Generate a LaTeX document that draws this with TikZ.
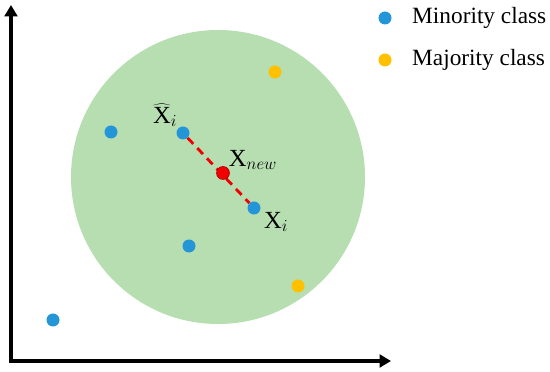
\documentclass[tikz,border=0pt]{standalone}
\usepackage{fontspec}
\setmainfont{Liberation Serif}
\usetikzlibrary{arrows.meta, positioning}
\definecolor{Dot_Blue}{HTML}{2496D8}
\definecolor{Dot_Orange}{HTML}{FFC000}
\definecolor{Dot_Red}{HTML}{F00000}
\definecolor{Area_Green}{HTML}{B6DEB1}

\begin{document}
\begin{tikzpicture}[
    x=0.03cm, y=-0.03cm,
    dot/.style={circle, minimum size=0.39cm, inner sep=0pt},
    minority/.style={dot, fill=Dot_Blue},
    majority/.style={dot, fill=Dot_Orange},
    axis/.style={line width=3.4pt, -{Triangle[length=0.34cm, width=0.38cm]}},
    lbl/.style={font=\fontsize{21}{24}\selectfont, inner sep=0pt},
    legend/.style={font=\fontsize{19.9}{24}\selectfont, anchor=west, inner sep=0pt}
]
\useasboundingbox (0,0) rectangle (550,372);
\fill[Area_Green] (218,177) circle (0.03cm*147);

\coordinate (origin) at (11,361);
\coordinate (ytop) at (11,5);
\coordinate (xend) at (391,361);
\draw[axis] ([yshift=-1.7pt]origin) -- (ytop);
\draw[axis] ([xshift=-1.7pt]origin) -- (xend);

\node[minority] (a) at (111,132) {};
\node[minority] (xhat) at (183,133) {};
\node[minority] (xi) at (254,208) {};
\node[minority] (b) at (189,246) {};
\node[minority] (c) at (53,320) {};
\node[majority] (d) at (275,72) {};
\node[majority] (e) at (298,286) {};

\draw[Dot_Red, line width=2.4pt, dash pattern=on 7pt off 5pt] (xhat) -- (xi);
\node[dot, fill=Dot_Red, draw=Dot_Red!70!black, line width=0.5pt] (xnew) at (223,173) {};

\node[lbl] (xhatlbl) at (165,115) {$\widehat{\mathrm{X}}_{i}$};
\node[lbl] (xnewlbl) at (253,160) {$\mathrm{X}_{new}$};
\node[lbl] (xilbl) at (276,222) {$\mathrm{X}_{i}$};

\node[minority] (minkey) at (385,18) {};
\node[legend] (mintext) at (412,18) {Minority class};
\node[majority] (majkey) at (385,60) {};
\node[legend] (majtext) at (412,60) {Majority class};
\end{tikzpicture}
\end{document}
